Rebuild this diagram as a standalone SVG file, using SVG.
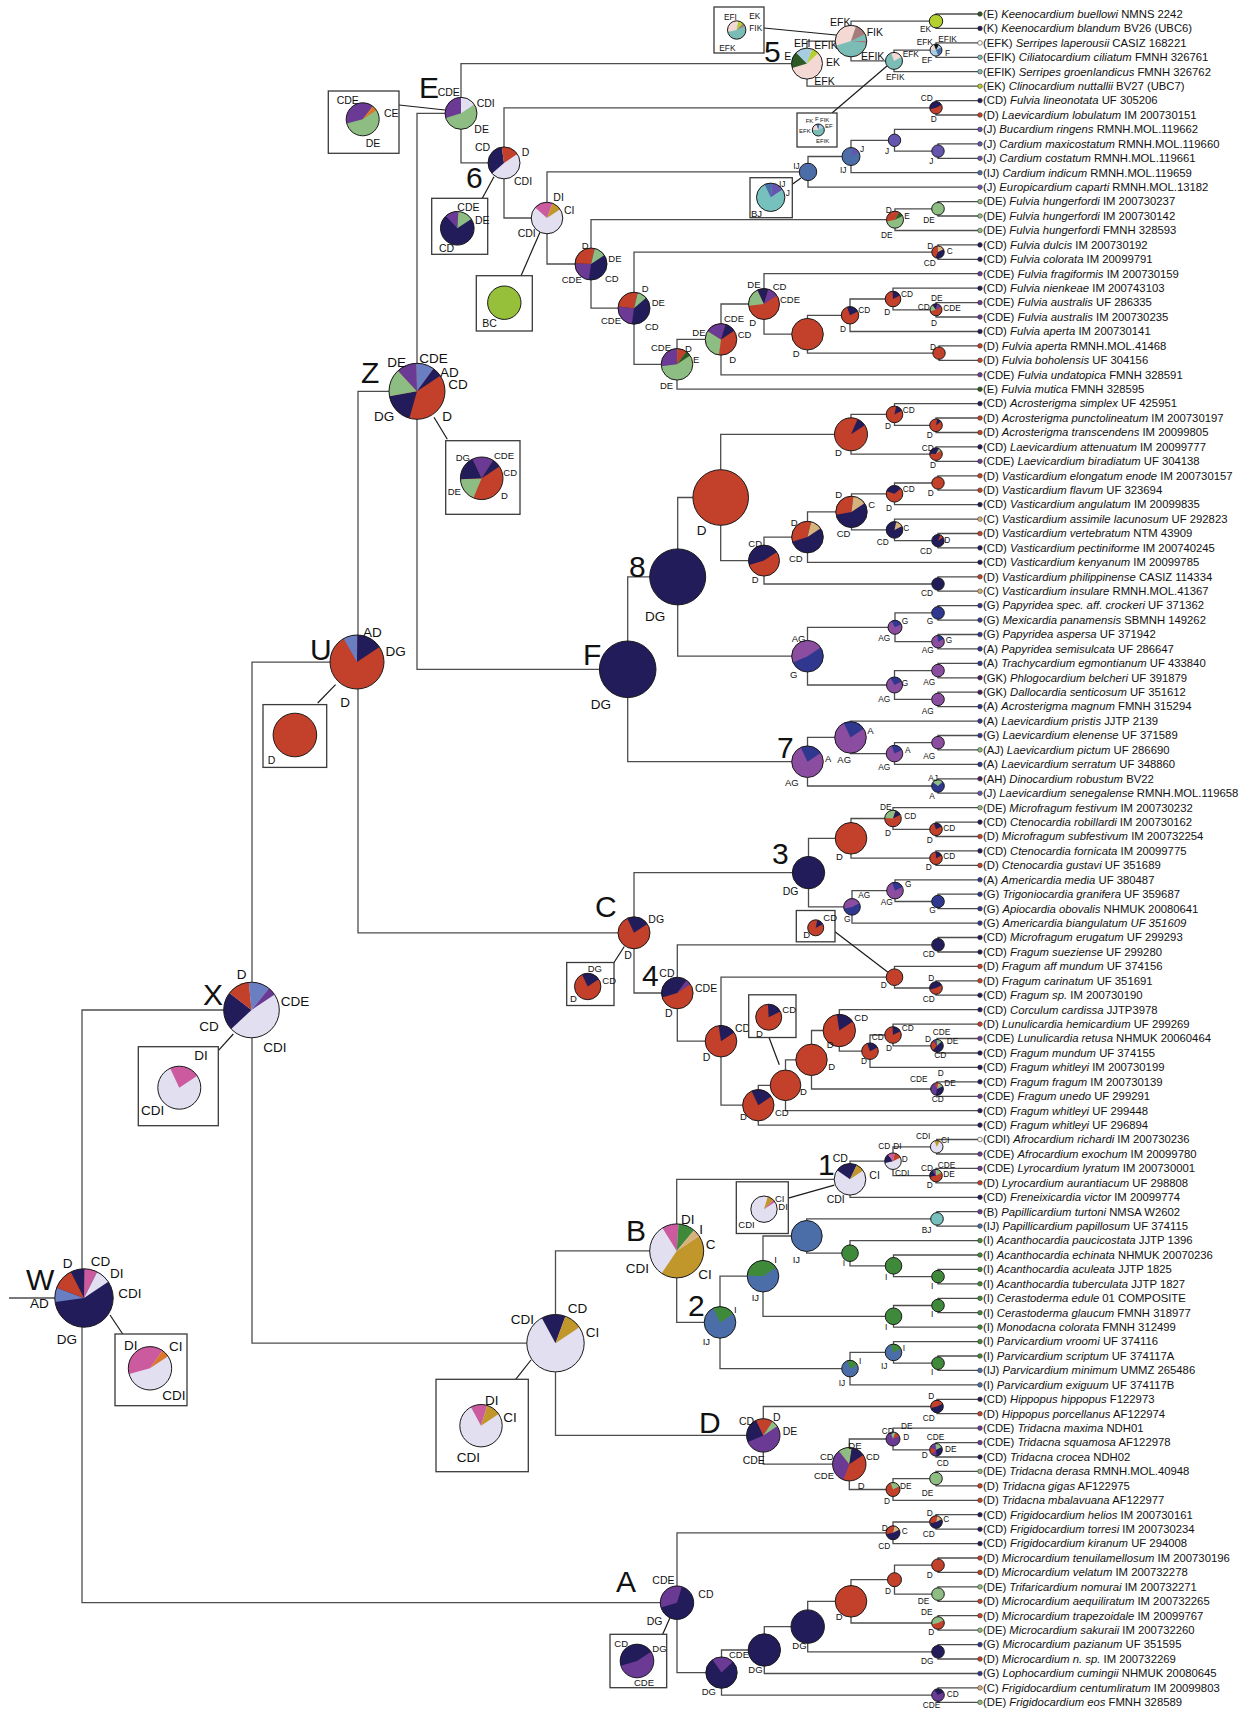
<svg xmlns="http://www.w3.org/2000/svg" width="1247" height="1709" viewBox="0 0 1247 1709">
<style>
text{font-family:"Liberation Sans",Arial,sans-serif;fill:#111}
.tip text{font-size:11.3px}
.it{font-style:italic}
.big{font-size:30px}
.L{font-size:13.5px}
.M{font-size:10.5px}
.N{font-size:9.5px}
.S{font-size:8.3px}
.T{font-size:6px}
.tr{fill:none;stroke:#4d4d4d;stroke-width:1.3}
.bx{fill:#fff;stroke:#3a3a3a;stroke-width:1.3}
.ln{stroke:#1a1a1a;stroke-width:1.2}
.d{fill:#c3402a;stroke:#c3402a}
.n{fill:#221c5a;stroke:#221c5a}
.p{fill:#6a3a94;stroke:#6a3a94}
.g{fill:#8dbd83;stroke:#8dbd83}
.e{fill:#2c5a25;stroke:#2c5a25}
.a{fill:#6a7ec2;stroke:#6a7ec2}
.l{fill:#e1dff0;stroke:#e1dff0}
.k{fill:#cc5a9f;stroke:#cc5a9f}
.y{fill:#c1972b;stroke:#c1972b}
.t{fill:#d8b27c;stroke:#d8b27c}
.i{fill:#3f8a3a;stroke:#3f8a3a}
.ij{fill:#4c6ea8;stroke:#4c6ea8}
.j{fill:#6655ae;stroke:#6655ae}
.bj{fill:#76c0be;stroke:#76c0be}
.bc{fill:#96c03a;stroke:#96c03a}
.ag{fill:#8a4d9f;stroke:#8a4d9f}
.gb{fill:#30378f;stroke:#30378f}
.ef{fill:#f3d8d4;stroke:#f3d8d4}
.fk{fill:#a67b7b;stroke:#a67b7b}
.fi{fill:#7bbdb6;stroke:#7bbdb6}
.ek{fill:#b4d02f;stroke:#b4d02f}
.lb{fill:#a8cde2;stroke:#a8cde2}
.ce{fill:#d9772a;stroke:#d9772a}
.bk{fill:#111;stroke:#111}
.w{fill:#fff;stroke:#fff}
.dp{fill:#4b1d5f;stroke:#4b1d5f}
.b{stroke:none}
.s{fill:none;stroke-width:1}
.o{fill:none;stroke:#1a1a1a;stroke-width:1;vector-effect:non-scaling-stroke}
.dot{stroke:#333;stroke-width:.6}
</style>

<g id="connectors" class="tr">
<path d="M9 1298H60M252 1010H82V1602.7H677M358 662.1H252V1343.2H555.5M417 391.3H358V932.8H634M461 113.3H417V669.3H627.7M807 63.6H461V162.9H504"/>
<path d="M979 14H936V28.4H979M979 42.9H936V57.3H979M936 50.1H894V71.7H979M936 21.2H851V60.9H894M851 41.1H807V86.2H979"/>
<path d="M979 100.6H936V115H979M979 143.9H938V158.3H979M979 129.4H894.5V151.1H938M894.5 140.3H851V172.7H979M851 156.5H808V187.2H979M979 201.6H938V216H979M938 208.8H895V230.5H979M979 244.9H938V259.3H979M979 302.6H936V317H979M979 288.2H893V309.8H936M893 299H850V331.5H979M979 345.9H939V360.3H979M850 315.3H807.5V353.1H939M979 273.7H764V334.2H807.5M764 304H721V374.8H979M721 339.4H677V389.2H979M938 252.1H634V364.3H677M895 219.7H591V308.2H634M808 171.9H547V264H591M936 107.8H504V218H547"/>
<path d="M979 418H936V432.5H979M979 403.6H894.5V425.3H936M979 446.9H936V461.3H979M894.5 414.4H851V454.1H936M979 475.8H938V490.2H979M938 483H894.5V504.6H979M979 533.5H938V547.9H979M979 519.1H894.5V540.7H938M894.5 493.8H851.5V529.9H894.5M851.5 511.9H807.5V562.3H979M979 576.8H938V591.2H979M807.5 537.1H764V584H938M851 434.3H720.7V560.6H764M979 605.6H938V620.1H979M979 634.5H938V648.9H979M938 612.9H895V641.7H938M979 663.4H938V677.8H979M979 692.2H938V706.6H979M938 670.6H894.5V699.4H938M895 627.3H807.5V685H894.5M720.7 497.5H677.7V656.2H807.5M979 735.5H938V749.9H979M938 742.7H894.5V764.4H979M979 721.1H850.5V753.6H894.5M979 778.8H938V793.2H979M850.5 737.4H807.5V786H938M677.7 576.9H627.7V761.7H807.5"/>
<path d="M979 822.1H936V836.5H979M979 807.7H893V829.3H936M979 850.9H936V865.4H979M893 818.5H851V858.2H936M979 894.2H938V908.7H979M979 879.8H895V901.5H938M895 890.6H852V923.1H979M851 838.3H808.5V906.9H852M979 937.5H938V952H979M979 980.8H936V995.2H979M979 966.4H894.5V988H936M979 1038.5H937V1053H979M979 1024.1H893V1045.8H937M893 1035H870V1067.4H979M979 1009.7H839.3V1051.2H870M979 1081.8H937V1096.3H979M839.3 1030.5H811.5V1089H937M811.5 1059.8H785.5V1110.7H979M785.5 1085.3H758.3V1125.1H979M894.5 977.2H721V1105.2H758.3M938 944.8H677.3V1041.2H721M808.5 872.6H634V993H677.3"/>
<path d="M979 1139.5H936.7V1154H979M979 1168.4H936V1182.8H979M936.7 1146.8H893V1175.6H936M893 1161.2H850V1197.3H979M979 1211.7H937V1226.1H979M979 1269.4H938V1283.8H979M979 1255H893.5V1276.6H938M979 1240.6H850V1265.8H893.5M937 1218.9H806.7V1253.2H850M979 1298.3H938V1312.7H979M938 1305.5H893.5V1327.1H979M806.7 1236H763V1316.3H893.5M979 1356H938V1370.4H979M979 1341.6H893.5V1363.2H938M893.5 1352.4H850V1384.9H979M763 1276.2H720V1368.6H850M850 1179.3H676.7V1322.4H720M979 1399.3H937V1413.7H979M979 1442.6H936V1457H979M979 1428.1H893V1449.8H936M979 1471.4H936V1485.9H979M936 1478.6H893V1500.3H979M893 1439H849.3V1489.5H893M937 1406.5H763.3V1464.2H849.3M676.7 1250.9H555.5V1435.4H763.3"/>
<path d="M979 1514.7H936V1529.2H979M936 1522H893V1543.6H979M979 1558H938V1572.4H979M979 1586.9H938V1601.3H979M938 1565.2H894.5V1594.1H938M979 1615.7H938V1630.2H979M894.5 1579.7H851V1623H938M979 1644.6H938V1659H979M851 1601.3H807.7V1651.8H938M807.7 1626.6H764.3V1673.5H979M979 1687.9H938V1702.3H979M764.3 1650H721.5V1695.1H938M893 1532.8H677V1672.6H721.5"/>
</g>

<g id="inset-lines">
<line class="ln" x1="764" y1="28" x2="836" y2="35"/>
<line class="ln" x1="832" y1="113" x2="887" y2="66"/>
<line class="ln" x1="399" y1="105" x2="445" y2="110"/>
<line class="ln" x1="482.3" y1="198.3" x2="494" y2="176.7"/>
<line class="ln" x1="521" y1="275.7" x2="540" y2="232.3"/>
<line class="ln" x1="792.3" y1="184.3" x2="801" y2="178"/>
<line class="ln" x1="434" y1="417.3" x2="447.3" y2="439.3"/>
<line class="ln" x1="317.7" y1="703" x2="335.6" y2="684.7"/>
<line class="ln" x1="218.3" y1="1050.7" x2="233.3" y2="1034"/>
<line class="ln" x1="122.7" y1="1334" x2="110" y2="1315"/>
<line class="ln" x1="515.7" y1="1379.3" x2="531" y2="1360"/>
<line class="ln" x1="614" y1="962.5" x2="624.3" y2="946.5"/>
<line class="ln" x1="835" y1="931.8" x2="888.3" y2="972.5"/>
<line class="ln" x1="769" y1="1037.5" x2="779.3" y2="1064.8"/>
<line class="ln" x1="788.3" y1="1198.2" x2="834.3" y2="1185.2"/>
<line class="ln" x1="662.7" y1="1634.3" x2="670" y2="1617.7"/>
</g>

<!-- Root W -->
<g id="nW"><g transform="translate(84 1298) scale(29.2)"><circle r="1" class="b n"/><circle class="s a" r=".5" pathLength="100" stroke-dasharray="8.8 91.2" stroke-dashoffset="-52.7"/><circle class="s d" r=".5" pathLength="100" stroke-dasharray="13 87" stroke-dashoffset="-61.5"/><circle class="s k" r=".5" pathLength="100" stroke-dasharray="8 92" stroke-dashoffset="-83"/><circle class="s l" r=".5" pathLength="100" stroke-dasharray="9 91" stroke-dashoffset="-91"/><circle r="1" class="o"/></g>
<text class="big" x="26" y="1290">W</text><text class="L" x="62.7" y="1268.3">D</text><text class="L" x="90.7" y="1266">CD</text><text class="L" x="110" y="1278.3">DI</text><text class="L" x="118.3" y="1298.3">CDI</text><text class="L" x="30" y="1308.3">AD</text><text class="L" x="56.7" y="1344.3">DG</text></g>
<g id="iW"><rect class="bx" x="115" y="1334" width="72" height="71.7"/><g transform="translate(150 1368.3) scale(21.7)"><circle r="1" class="b l"/><circle class="s k" r=".5" pathLength="100" stroke-dasharray="43.1 56.9" stroke-dashoffset="-50.5"/><circle class="s ce" r=".5" pathLength="100" stroke-dasharray="6.4 93.6" stroke-dashoffset="-93.6"/><circle r="1" class="o"/></g><text class="L" x="124" y="1350">DI</text><text class="L" x="169" y="1350.7">CI</text><text class="L" x="162.3" y="1400">CDI</text></g>

<g id="nX"><g transform="translate(251.5 1010) scale(27.8)"><circle r="1" class="b l"/><circle class="s n" r=".5" pathLength="100" stroke-dasharray="24.7 75.3" stroke-dashoffset="-42"/><circle class="s d" r=".5" pathLength="100" stroke-dasharray="14.3 85.7" stroke-dashoffset="-66.7"/><circle class="s a" r=".5" pathLength="100" stroke-dasharray="13.7 86.3" stroke-dashoffset="-81"/><circle class="s p" r=".5" pathLength="100" stroke-dasharray="5.3 94.7" stroke-dashoffset="-94.7"/><circle r="1" class="o"/></g>
<text class="big" x="203" y="1005">X</text><text class="L" x="236.7" y="979.3">D</text><text class="L" x="280.7" y="1006">CDE</text><text class="L" x="199.3" y="1030.7">CD</text><text class="L" x="263.3" y="1051.7">CDI</text></g>
<g id="iX"><rect class="bx" x="138.3" y="1046.7" width="80" height="79"/><g transform="translate(179.3 1087.7) scale(21.5)"><circle r="1" class="b l"/><circle class="s k" r=".5" pathLength="100" stroke-dasharray="25 75" stroke-dashoffset="-75"/><circle r="1" class="o"/></g><text class="L" x="194.3" y="1060">DI</text><text class="L" x="141" y="1115">CDI</text></g>

<g id="nU"><g transform="translate(357 662) scale(27)"><circle r="1" class="b d"/><circle class="s a" r=".5" pathLength="100" stroke-dasharray="9.4 90.6" stroke-dashoffset="-73.6"/><circle class="s n" r=".5" pathLength="100" stroke-dasharray="17 83" stroke-dashoffset="-83"/><circle r="1" class="o"/></g>
<text class="big" x="310" y="660">U</text><text class="L" x="363" y="636.6">AD</text><text class="L" x="385.6" y="656">DG</text><text class="L" x="340.2" y="707.2">D</text></g>
<g id="iU"><rect class="bx" x="263" y="704.6" width="63.7" height="62.8"/><g transform="translate(294.9 735) scale(21.8)"><circle r="1" class="b d"/><circle r="1" class="o"/></g><text class="M" x="267.8" y="764">D</text></g>

<g id="nZ"><g transform="translate(417 391.3) scale(28)"><circle r="1" class="b d"/><circle class="s n" r=".5" pathLength="100" stroke-dasharray="19.5 80.5" stroke-dashoffset="-32.5"/><circle class="s g" r=".5" pathLength="100" stroke-dasharray="17.7 82.3" stroke-dashoffset="-52"/><circle class="s p" r=".5" pathLength="100" stroke-dasharray="12.5 87.5" stroke-dashoffset="-69.7"/><circle class="s a" r=".5" pathLength="100" stroke-dasharray="11.7 88.3" stroke-dashoffset="-82.2"/><circle class="s n" r=".5" pathLength="100" stroke-dasharray="6.1 93.9" stroke-dashoffset="-93.9"/><circle r="1" class="o"/></g>
<text class="big" x="361" y="383">Z</text><text class="L" x="387.3" y="366.7">DE</text><text class="L" x="419.3" y="363.3">CDE</text><text class="L" x="440" y="376.7">AD</text><text class="L" x="448.3" y="389.3">CD</text><text class="L" x="374" y="420.7">DG</text><text class="L" x="442.3" y="420.7">D</text></g>
<g id="iZ"><rect class="bx" x="445.7" y="440.7" width="74.3" height="73.6"/><g transform="translate(481.7 478.3) scale(21.3)"><circle r="1" class="b d"/><circle class="s g" r=".5" pathLength="100" stroke-dasharray="19.7 80.3" stroke-dashoffset="-34.7"/><circle class="s n" r=".5" pathLength="100" stroke-dasharray="20.6 79.4" stroke-dashoffset="-54.4"/><circle class="s p" r=".5" pathLength="100" stroke-dasharray="17.8 82.2" stroke-dashoffset="-75"/><circle class="s n" r=".5" pathLength="100" stroke-dasharray="7.2 92.8" stroke-dashoffset="-92.8"/><circle r="1" class="o"/></g><text class="N" x="455.7" y="460.7">DG</text><text class="N" x="494" y="459">CDE</text><text class="N" x="503.3" y="475.7">CD</text><text class="N" x="447.7" y="495">DE</text><text class="N" x="501" y="499.3">D</text></g>

<g id="nE"><g transform="translate(461 113.3) scale(16)"><circle r="1" class="b g"/><circle class="s p" r=".5" pathLength="100" stroke-dasharray="32.8 67.2" stroke-dashoffset="-50"/><circle class="s l" r=".5" pathLength="100" stroke-dasharray="17.2 82.8" stroke-dashoffset="-82.8"/><circle r="1" class="o"/></g>
<text class="big" x="419" y="98">E</text><text class="M" x="437.7" y="96">CDE</text><text class="M" x="476.7" y="106.7">CDI</text><text class="M" x="474.3" y="133.3">DE</text></g>
<g id="iE"><rect class="bx" x="328.3" y="91" width="70.7" height="62.3"/><g transform="translate(362.7 119.3) scale(16.5)"><circle r="1" class="b g"/><circle class="s p" r=".5" pathLength="100" stroke-dasharray="43.9 56.1" stroke-dashoffset="-50.5"/><circle class="s ce" r=".5" pathLength="100" stroke-dasharray="5.6 94.4" stroke-dashoffset="-94.4"/><circle r="1" class="o"/></g><text class="M" x="336.7" y="104.3">CDE</text><text class="M" x="384" y="117.3">CE</text><text class="M" x="365.7" y="147.3">DE</text></g>

<g id="n5"><g transform="translate(807 63.6) scale(15.5)"><circle r="1" class="b ef"/><circle class="s e" r=".5" pathLength="100" stroke-dasharray="19 81" stroke-dashoffset="-50"/><circle class="s lb" r=".5" pathLength="100" stroke-dasharray="20 80" stroke-dashoffset="-69"/><circle class="s ek" r=".5" pathLength="100" stroke-dasharray="8 92" stroke-dashoffset="-89"/><circle r="1" class="o"/></g>
<text class="big" x="764" y="62">5</text><text class="M" x="794" y="47">EFI</text><text class="M" x="814.3" y="49.3">EFIK</text><text class="M" x="784.3" y="60">E</text><text class="M" x="826" y="66">EK</text><text class="M" x="814.3" y="85">EFK</text></g>
<g id="iFIK"><rect class="bx" x="714" y="7" width="50" height="46"/><g transform="translate(736.7 30) scale(9.2)"><circle r="1" class="b fi"/><circle class="s ef" r=".5" pathLength="100" stroke-dasharray="35 65" stroke-dashoffset="-50"/><circle class="s ek" r=".5" pathLength="100" stroke-dasharray="10 90" stroke-dashoffset="-85"/><circle class="s fk" r=".5" pathLength="100" stroke-dasharray="5 95" stroke-dashoffset="-95"/><circle r="1" class="o"/></g><text class="S" x="724" y="20">EFI</text><text class="S" x="749.3" y="19">EK</text><text class="S" x="749.3" y="30.7">FIK</text><text class="S" x="719.3" y="50.7">EFK</text></g>
<g id="nFIK"><g transform="translate(851 41.1) scale(15.8)"><circle r="1" class="b fi"/><circle class="s ef" r=".5" pathLength="100" stroke-dasharray="38.6 61.4" stroke-dashoffset="-50"/><circle class="s fk" r=".5" pathLength="100" stroke-dasharray="13.4 86.6" stroke-dashoffset="-88.6"/><circle r="1" class="o"/></g><text class="M" x="830" y="26">EFK</text><text class="M" x="866.7" y="36">FIK</text></g>
<g id="nEK"><g transform="translate(936 21.2) scale(6.7)"><circle r="1" class="b ek"/><circle r="1" class="o"/></g><text class="S" x="920" y="31.7">EK</text></g>
<g id="nEFIK"><g transform="translate(894 60.9) scale(8.5)"><circle r="1" class="b fi"/><circle class="s ef" r=".5" pathLength="100" stroke-dasharray="25 75" stroke-dashoffset="-75"/><circle r="1" class="o"/></g><text class="S" x="902.7" y="57.3">EFK</text><text class="M" x="861" y="60">EFIK</text><text class="S" x="886" y="80">EFIK</text></g>
<g id="iEFIK"><rect class="bx" x="797" y="113" width="40" height="34"/><g transform="translate(818.3 130) scale(6)"><circle r="1" class="b fi"/><circle class="s ef" r=".5" pathLength="100" stroke-dasharray="20 80" stroke-dashoffset="-55"/><circle class="s ij" r=".5" pathLength="100" stroke-dasharray="10 90" stroke-dashoffset="-75"/><circle class="s lb" r=".5" pathLength="100" stroke-dasharray="15 85" stroke-dashoffset="-85"/><circle r="1" class="o"/></g><text class="T" x="805.7" y="123.3">FK</text><text class="T" x="815" y="120.7">F</text><text class="T" x="820" y="122.3">FIK</text><text class="T" x="825" y="128.3">EF</text><text class="T" x="799" y="133.3">EFK</text><text class="T" x="816" y="142.7">EFIK</text></g>
<g id="nEFIK2"><g transform="translate(936 50.1) scale(6)"><circle r="1" class="b lb"/><circle class="s ij" r=".5" pathLength="100" stroke-dasharray="20 80" stroke-dashoffset="0"/><circle class="s ef" r=".5" pathLength="100" stroke-dasharray="20 80" stroke-dashoffset="-55"/><circle class="s bk" r=".5" pathLength="100" stroke-dasharray="15 85" stroke-dashoffset="-75"/><circle r="1" class="o"/></g><text class="S" x="916.7" y="45">EFK</text><text class="S" x="938.3" y="41.7">EFIK</text><text class="S" x="921.7" y="63.3">EF</text><text class="S" x="945" y="56">F</text></g>

<g id="n6"><g transform="translate(504 162.9) scale(16)"><circle r="1" class="b l"/><circle class="s n" r=".5" pathLength="100" stroke-dasharray="37.7 62.3" stroke-dashoffset="-42.5"/><circle class="s d" r=".5" pathLength="100" stroke-dasharray="19.8 80.2" stroke-dashoffset="-80.2"/><circle r="1" class="o"/></g>
<text class="big" x="466" y="188">6</text><text class="M" x="475" y="151">CD</text><text class="M" x="521.7" y="156">D</text><text class="M" x="514" y="185">CDI</text></g>
<g id="i6"><rect class="bx" x="431.7" y="198.3" width="56" height="56"/><g transform="translate(457.3 228.3) scale(16.8)"><circle r="1" class="b n"/><circle class="s p" r=".5" pathLength="100" stroke-dasharray="14.4 85.6" stroke-dashoffset="-69.5"/><circle class="s g" r=".5" pathLength="100" stroke-dasharray="16.1 83.9" stroke-dashoffset="-83.9"/><circle r="1" class="o"/></g><text class="M" x="457.3" y="210.7">CDE</text><text class="M" x="475" y="224.3">DE</text><text class="M" x="439" y="251.7">CD</text></g>
<g id="nCD6"><g transform="translate(936 107.8) scale(6.2)"><circle r="1" class="b d"/><circle class="s n" r=".5" pathLength="100" stroke-dasharray="50 50" stroke-dashoffset="-50"/><circle r="1" class="o"/></g><text class="S" x="920.7" y="101">CD</text><text class="S" x="930.7" y="122.3">D</text></g>
<g id="nIJ"><g transform="translate(808 171.9) scale(8.7)"><circle r="1" class="b ij"/><circle r="1" class="o"/></g><text class="S" x="793.3" y="169.3">IJ</text></g>
<g id="iIJ"><rect class="bx" x="750" y="177.7" width="42.3" height="40"/><g transform="translate(770.7 197.3) scale(14.2)"><circle r="1" class="b bj"/><circle class="s ij" r=".5" pathLength="100" stroke-dasharray="10 90" stroke-dashoffset="-75"/><circle class="s j" r=".5" pathLength="100" stroke-dasharray="15 85" stroke-dashoffset="-85"/><circle r="1" class="o"/></g><text class="S" x="779" y="186.7">IJ</text><text class="S" x="785.7" y="196">J</text><text class="N" x="751" y="217.3">BJ</text></g>
<g id="nIJ2"><g transform="translate(851 156.5) scale(9)"><circle r="1" class="b ij"/><circle class="s j" r=".5" pathLength="100" stroke-dasharray="15 85" stroke-dashoffset="-85"/><circle r="1" class="o"/></g><text class="S" x="860" y="152.3">J</text><text class="S" x="840" y="173.3">IJ</text></g>
<g id="nJ"><g transform="translate(894.5 140.3) scale(6.2)"><circle r="1" class="b j"/><circle r="1" class="o"/></g><text class="S" x="885" y="154">J</text></g>
<g id="nJ2"><g transform="translate(938 151.1) scale(6.2)"><circle r="1" class="b j"/><circle r="1" class="o"/></g><text class="S" x="929.3" y="164">J</text></g>
<g id="n547"><g transform="translate(547 218) scale(15.8)"><circle r="1" class="b l"/><circle class="s k" r=".5" pathLength="100" stroke-dasharray="21.4 78.6" stroke-dashoffset="-67.8"/><circle class="s y" r=".5" pathLength="100" stroke-dasharray="10.8 89.2" stroke-dashoffset="-89.2"/><circle r="1" class="o"/></g><text class="M" x="553.3" y="200.7">DI</text><text class="M" x="564" y="214">CI</text><text class="M" x="517.7" y="236.7">CDI</text></g>
<g id="iBC"><rect class="bx" x="476.3" y="275.7" width="56" height="55.3"/><g transform="translate(504.3 302.7) scale(16.7)"><circle r="1" class="b bc"/><circle r="1" class="o"/></g><text class="M" x="482.3" y="327.3">BC</text></g>
<g id="n591"><g transform="translate(591 264) scale(16)"><circle r="1" class="b n"/><circle class="s p" r=".5" pathLength="100" stroke-dasharray="26 74" stroke-dashoffset="-30"/><circle class="s d" r=".5" pathLength="100" stroke-dasharray="31 69" stroke-dashoffset="-56"/><circle class="s g" r=".5" pathLength="100" stroke-dasharray="13 87" stroke-dashoffset="-87"/><circle r="1" class="o"/></g><text class="N" x="581.7" y="249.3">D</text><text class="N" x="608.3" y="261.7">DE</text><text class="N" x="561.7" y="283.3">CDE</text><text class="N" x="605" y="281.7">CD</text></g>
<g id="nDEE"><g transform="translate(895 219.7) scale(8.5)"><circle r="1" class="b g"/><circle class="s d" r=".5" pathLength="100" stroke-dasharray="40 60" stroke-dashoffset="-50"/><circle class="s e" r=".5" pathLength="100" stroke-dasharray="10 90" stroke-dashoffset="-90"/><circle r="1" class="o"/></g><text class="S" x="885.7" y="212.7">D</text><text class="S" x="904.3" y="218.7">E</text><text class="S" x="881" y="237.7">DE</text></g>
<g id="nDE2"><g transform="translate(938 208.8) scale(6.3)"><circle r="1" class="b g"/><circle r="1" class="o"/></g><text class="S" x="923.3" y="223.3">DE</text></g>
<g id="n634"><g transform="translate(634 308.2) scale(16)"><circle r="1" class="b n"/><circle class="s p" r=".5" pathLength="100" stroke-dasharray="27 73" stroke-dashoffset="-30"/><circle class="s d" r=".5" pathLength="100" stroke-dasharray="30 70" stroke-dashoffset="-57"/><circle class="s g" r=".5" pathLength="100" stroke-dasharray="11 89" stroke-dashoffset="-87"/><circle r="1" class="o"/></g><text class="N" x="641.7" y="291.7">D</text><text class="N" x="651.7" y="306">DE</text><text class="N" x="601" y="324">CDE</text><text class="N" x="645" y="330">CD</text></g>
<g id="nDC"><g transform="translate(938 252.1) scale(6.2)"><circle r="1" class="b n"/><circle class="s d" r=".5" pathLength="100" stroke-dasharray="45 55" stroke-dashoffset="-35"/><circle class="s t" r=".5" pathLength="100" stroke-dasharray="20 80" stroke-dashoffset="-80"/><circle r="1" class="o"/></g><text class="S" x="927.3" y="249.3">D</text><text class="S" x="946.7" y="254">C</text><text class="S" x="923.7" y="266">CD</text></g>
<g id="n365"><g transform="translate(677 364.3) scale(15.8)"><circle r="1" class="b g"/><circle class="s p" r=".5" pathLength="100" stroke-dasharray="30 70" stroke-dashoffset="-53"/><circle class="s d" r=".5" pathLength="100" stroke-dasharray="11 89" stroke-dashoffset="-83"/><circle class="s e" r=".5" pathLength="100" stroke-dasharray="6 94" stroke-dashoffset="-94"/><circle r="1" class="o"/></g><text class="N" x="651" y="351">CDE</text><text class="N" x="685" y="352">D</text><text class="N" x="693" y="363">E</text><text class="N" x="660" y="389">DE</text></g>
<g id="n340"><g transform="translate(721 339.4) scale(15.8)"><circle r="1" class="b d"/><circle class="s g" r=".5" pathLength="100" stroke-dasharray="35 65" stroke-dashoffset="-30"/><circle class="s p" r=".5" pathLength="100" stroke-dasharray="23 77" stroke-dashoffset="-65"/><circle class="s n" r=".5" pathLength="100" stroke-dasharray="12 88" stroke-dashoffset="-88"/><circle r="1" class="o"/></g><text class="N" x="724" y="322">CDE</text><text class="N" x="692.3" y="335.7">DE</text><text class="N" x="737.7" y="338">CD</text><text class="N" x="729.3" y="363">D</text></g>
<g id="n304"><g transform="translate(764 304) scale(15.5)"><circle r="1" class="b d"/><circle class="s g" r=".5" pathLength="100" stroke-dasharray="22 78" stroke-dashoffset="-53"/><circle class="s n" r=".5" pathLength="100" stroke-dasharray="13 87" stroke-dashoffset="-75"/><circle class="s p" r=".5" pathLength="100" stroke-dasharray="12 88" stroke-dashoffset="-88"/><circle r="1" class="o"/></g><text class="N" x="747.3" y="288.3">DE</text><text class="N" x="772.7" y="290">CD</text><text class="N" x="780" y="302.7">CDE</text><text class="N" x="749.3" y="326">D</text></g>
<g id="n335"><g transform="translate(807.5 334.2) scale(15.8)"><circle r="1" class="b d"/><circle r="1" class="o"/></g><text class="N" x="792.7" y="356.7">D</text></g>
<g id="n316"><g transform="translate(850 315.3) scale(8.7)"><circle r="1" class="b d"/><circle class="s n" r=".5" pathLength="100" stroke-dasharray="25 75" stroke-dashoffset="-75"/><circle r="1" class="o"/></g><text class="S" x="858.3" y="312.7">CD</text><text class="S" x="840" y="331.7">D</text></g>
<g id="n299"><g transform="translate(893 299) scale(7.8)"><circle r="1" class="b d"/><circle class="s n" r=".5" pathLength="100" stroke-dasharray="20 80" stroke-dashoffset="-80"/><circle r="1" class="o"/></g><text class="S" x="901" y="296.7">CD</text><text class="S" x="884.3" y="315">D</text></g>
<g id="n310"><g transform="translate(936 309.8) scale(6)"><circle r="1" class="b d"/><circle class="s g" r=".5" pathLength="100" stroke-dasharray="20 80" stroke-dashoffset="-50"/><circle class="s n" r=".5" pathLength="100" stroke-dasharray="15 85" stroke-dashoffset="-70"/><circle class="s p" r=".5" pathLength="100" stroke-dasharray="15 85" stroke-dashoffset="-85"/><circle r="1" class="o"/></g><text class="S" x="931" y="301">DE</text><text class="S" x="917.7" y="310">CD</text><text class="S" x="943.3" y="311">CDE</text><text class="S" x="931" y="326">D</text></g>
<g id="n353"><g transform="translate(939 353.1) scale(6.2)"><circle r="1" class="b d"/><circle r="1" class="o"/></g><text class="S" x="930" y="350">D</text></g>

<g id="nF"><g transform="translate(627.7 669.3) scale(28.3)"><circle r="1" class="b n"/><circle r="1" class="o"/></g><text class="big" x="583" y="665">F</text><text class="L" x="590.7" y="709.3">DG</text></g>
<g id="n8"><g transform="translate(677.7 576.9) scale(28)"><circle r="1" class="b n"/><circle r="1" class="o"/></g><text class="big" x="629" y="577">8</text><text class="L" x="645" y="620.7">DG</text></g>
<g id="n498"><g transform="translate(720.7 497.5) scale(27.8)"><circle r="1" class="b d"/><circle r="1" class="o"/></g><text class="L" x="696.7" y="535">D</text></g>
<g id="n436"><g transform="translate(851 434.3) scale(16.5)"><circle r="1" class="b d"/><circle class="s n" r=".5" pathLength="100" stroke-dasharray="10 90" stroke-dashoffset="-90"/><circle r="1" class="o"/></g><text class="N" x="835" y="456">D</text></g>
<g id="n415"><g transform="translate(894.5 414.4) scale(8.3)"><circle r="1" class="b d"/><circle class="s n" r=".5" pathLength="100" stroke-dasharray="15 85" stroke-dashoffset="-85"/><circle r="1" class="o"/></g><text class="S" x="902.7" y="412.7">CD</text><text class="S" x="885" y="429.3">D</text></g>
<g id="n425"><g transform="translate(936 425.3) scale(6.3)"><circle r="1" class="b d"/><circle class="s n" r=".5" pathLength="100" stroke-dasharray="12 88" stroke-dashoffset="-85"/><circle r="1" class="o"/></g><text class="S" x="926.7" y="438.3">D</text></g>
<g id="n454"><g transform="translate(936 454.1) scale(6.3)"><circle r="1" class="b d"/><circle class="s n" r=".5" pathLength="100" stroke-dasharray="35 65" stroke-dashoffset="-55"/><circle class="s g" r=".5" pathLength="100" stroke-dasharray="7 93" stroke-dashoffset="-90"/><circle r="1" class="o"/></g><text class="S" x="921.7" y="450.7">CD</text><text class="S" x="930" y="467.7">D</text></g>
<g id="n562"><g transform="translate(764 560.6) scale(15.5)"><circle r="1" class="b d"/><circle class="s n" r=".5" pathLength="100" stroke-dasharray="50 50" stroke-dashoffset="-50"/><circle r="1" class="o"/></g><text class="N" x="748.3" y="547.3">CD</text><text class="N" x="751.7" y="583.3">D</text></g>
<g id="n538"><g transform="translate(807.5 537.1) scale(15.8)"><circle r="1" class="b n"/><circle class="s d" r=".5" pathLength="100" stroke-dasharray="37 63" stroke-dashoffset="-50"/><circle class="s t" r=".5" pathLength="100" stroke-dasharray="13 87" stroke-dashoffset="-87"/><circle r="1" class="o"/></g><text class="N" x="790.7" y="526">D</text><text class="N" x="789" y="561.7">CD</text></g>
<g id="n513"><g transform="translate(851.5 511.9) scale(15.7)"><circle r="1" class="b n"/><circle class="s d" r=".5" pathLength="100" stroke-dasharray="33 67" stroke-dashoffset="-52"/><circle class="s t" r=".5" pathLength="100" stroke-dasharray="15 85" stroke-dashoffset="-85"/><circle r="1" class="o"/></g><text class="N" x="835.3" y="498">D</text><text class="N" x="868.3" y="508.3">C</text><text class="N" x="836.7" y="536.7">CD</text></g>
<g id="n495"><g transform="translate(894.5 493.8) scale(8.3)"><circle r="1" class="b d"/><circle class="s n" r=".5" pathLength="100" stroke-dasharray="36 64" stroke-dashoffset="-60"/><circle r="1" class="o"/></g><text class="S" x="902.7" y="492.3">CD</text><text class="S" x="886" y="511">D</text></g>
<g id="n484"><g transform="translate(938 483) scale(6.2)"><circle r="1" class="b d"/><circle r="1" class="o"/></g><text class="S" x="927.7" y="496">D</text></g>
<g id="n532"><g transform="translate(894.5 529.9) scale(8.3)"><circle r="1" class="b n"/><circle class="s t" r=".5" pathLength="100" stroke-dasharray="15 85" stroke-dashoffset="-85"/><circle r="1" class="o"/></g><text class="S" x="903.3" y="530.7">C</text><text class="S" x="876.7" y="545">CD</text></g>
<g id="n541"><g transform="translate(938 540.7) scale(6.2)"><circle r="1" class="b n"/><circle class="s d" r=".5" pathLength="100" stroke-dasharray="10 90" stroke-dashoffset="-88"/><circle r="1" class="o"/></g><text class="S" x="944.3" y="542.7">D</text><text class="S" x="920" y="554.3">CD</text></g>
<g id="n584"><g transform="translate(938 584) scale(6.2)"><circle r="1" class="b n"/><circle r="1" class="o"/></g><text class="S" x="921" y="596">CD</text></g>
<g id="n656"><g transform="translate(807.5 656.2) scale(15.8)"><circle r="1" class="b gb"/><circle class="s ag" r=".5" pathLength="100" stroke-dasharray="52 48" stroke-dashoffset="-48"/><circle r="1" class="o"/></g><text class="N" x="791.7" y="641.7">AG</text><text class="N" x="790" y="677.7">G</text></g>
<g id="n627"><g transform="translate(895 627.3) scale(7)"><circle r="1" class="b ag"/><circle class="s gb" r=".5" pathLength="100" stroke-dasharray="28 72" stroke-dashoffset="-72"/><circle r="1" class="o"/></g><text class="S" x="901.7" y="624">G</text><text class="S" x="878.3" y="640.7">AG</text></g>
<g id="n613"><g transform="translate(938 612.9) scale(6.3)"><circle r="1" class="b gb"/><circle r="1" class="o"/></g><text class="S" x="926.7" y="624">G</text></g>
<g id="n642"><g transform="translate(938 641.7) scale(6.3)"><circle r="1" class="b ag"/><circle class="s gb" r=".5" pathLength="100" stroke-dasharray="20 80" stroke-dashoffset="-80"/><circle r="1" class="o"/></g><text class="S" x="945.7" y="642.7">G</text><text class="S" x="921.7" y="652.7">AG</text></g>
<g id="n685"><g transform="translate(894.5 685) scale(8)"><circle r="1" class="b ag"/><circle class="s gb" r=".5" pathLength="100" stroke-dasharray="28 72" stroke-dashoffset="-72"/><circle r="1" class="o"/></g><text class="S" x="901.7" y="685.7">G</text><text class="S" x="878.3" y="702">AG</text></g>
<g id="n671"><g transform="translate(938 670.6) scale(6.3)"><circle r="1" class="b ag"/><circle r="1" class="o"/></g><text class="S" x="923.3" y="685">AG</text></g>
<g id="n699"><g transform="translate(938 699.4) scale(6.3)"><circle r="1" class="b ag"/><circle r="1" class="o"/></g><text class="S" x="921.7" y="714.3">AG</text></g>
<g id="n7"><g transform="translate(807.5 761.7) scale(15.8)"><circle r="1" class="b ag"/><circle class="s gb" r=".5" pathLength="100" stroke-dasharray="25 75" stroke-dashoffset="-75"/><circle r="1" class="o"/></g><text class="big" x="777" y="758">7</text><text class="N" x="825" y="761.7">A</text><text class="N" x="785" y="785.7">AG</text></g>
<g id="n737"><g transform="translate(850.5 737.4) scale(15.8)"><circle r="1" class="b ag"/><circle class="s gb" r=".5" pathLength="100" stroke-dasharray="25 75" stroke-dashoffset="-75"/><circle r="1" class="o"/></g><text class="N" x="867.3" y="734.3">A</text><text class="N" x="837.3" y="763.3">AG</text></g>
<g id="n754"><g transform="translate(894.5 753.6) scale(8.3)"><circle r="1" class="b ag"/><circle class="s gb" r=".5" pathLength="100" stroke-dasharray="25 75" stroke-dashoffset="-75"/><circle r="1" class="o"/></g><text class="S" x="905" y="753.3">A</text><text class="S" x="878.3" y="770">AG</text></g>
<g id="n743"><g transform="translate(938 742.7) scale(6.3)"><circle r="1" class="b ag"/><circle r="1" class="o"/></g><text class="S" x="923.3" y="759.3">AG</text></g>
<g id="n786"><g transform="translate(938 786) scale(6.3)"><circle r="1" class="b gb"/><circle class="s g" r=".5" pathLength="100" stroke-dasharray="30 70" stroke-dashoffset="-65"/><circle r="1" class="o"/></g><text class="S" x="928.3" y="781">AJ</text><text class="S" x="929.3" y="799.3">A</text></g>

<g id="nC"><g transform="translate(634 932.8) scale(16)"><circle r="1" class="b d"/><circle class="s n" r=".5" pathLength="100" stroke-dasharray="25 75" stroke-dashoffset="-75"/><circle r="1" class="o"/></g><text class="big" x="595" y="916.5">C</text><text class="M" x="648.3" y="922.5">DG</text><text class="M" x="624.3" y="959.2">D</text></g>
<g id="iC"><rect class="bx" x="566.7" y="962.5" width="47.3" height="43"/><g transform="translate(587.7 986.5) scale(13.2)"><circle r="1" class="b d"/><circle class="s n" r=".5" pathLength="100" stroke-dasharray="25 75" stroke-dashoffset="-75"/><circle r="1" class="o"/></g><text class="N" x="587.7" y="972.2">DG</text><text class="N" x="602.3" y="983.8">CD</text><text class="N" x="570" y="1001.5">D</text></g>
<g id="n3"><g transform="translate(808.5 872.6) scale(16.2)"><circle r="1" class="b n"/><circle r="1" class="o"/></g><text class="big" x="772" y="863.5">3</text><text class="M" x="782.7" y="894.8">DG</text></g>
<g id="n838"><g transform="translate(851 838.3) scale(15.8)"><circle r="1" class="b d"/><circle r="1" class="o"/></g><text class="N" x="836" y="859.8">D</text></g>
<g id="n818"><g transform="translate(893 818.5) scale(8.3)"><circle r="1" class="b d"/><circle class="s g" r=".5" pathLength="100" stroke-dasharray="32 68" stroke-dashoffset="-55"/><circle class="s n" r=".5" pathLength="100" stroke-dasharray="13 87" stroke-dashoffset="-87"/><circle r="1" class="o"/></g><text class="S" x="880" y="809.8">DE</text><text class="S" x="904.3" y="819.2">CD</text><text class="S" x="885" y="835.8">D</text></g>
<g id="n829"><g transform="translate(936 829.3) scale(6.3)"><circle r="1" class="b d"/><circle class="s n" r=".5" pathLength="100" stroke-dasharray="25 75" stroke-dashoffset="-75"/><circle r="1" class="o"/></g><text class="S" x="943.3" y="830.5">CD</text><text class="S" x="926.7" y="842.5">D</text></g>
<g id="n858"><g transform="translate(936 858.2) scale(6.3)"><circle r="1" class="b d"/><circle class="s n" r=".5" pathLength="100" stroke-dasharray="20 80" stroke-dashoffset="-80"/><circle r="1" class="o"/></g><text class="S" x="943.3" y="859.2">CD</text><text class="S" x="925.7" y="869.8">D</text></g>
<g id="n907"><g transform="translate(852 906.9) scale(8.3)"><circle r="1" class="b gb"/><circle class="s ag" r=".5" pathLength="100" stroke-dasharray="50 50" stroke-dashoffset="-50"/><circle r="1" class="o"/></g><text class="S" x="858.3" y="898.2">AG</text><text class="S" x="844" y="921.5">G</text></g>
<g id="n891"><g transform="translate(895 890.6) scale(8.3)"><circle r="1" class="b ag"/><circle class="s gb" r=".5" pathLength="100" stroke-dasharray="25 75" stroke-dashoffset="-75"/><circle r="1" class="o"/></g><text class="S" x="905" y="886.5">G</text><text class="S" x="880.7" y="904.8">AG</text></g>
<g id="n902"><g transform="translate(938 901.5) scale(6.3)"><circle r="1" class="b gb"/><circle r="1" class="o"/></g><text class="S" x="929.3" y="913.2">G</text></g>
<g id="i13"><rect class="bx" x="796.3" y="910.5" width="38.7" height="31.3"/><g transform="translate(815.7 927.8) scale(8)"><circle r="1" class="b d"/><circle class="s n" r=".5" pathLength="100" stroke-dasharray="15 85" stroke-dashoffset="-85"/><circle r="1" class="o"/></g><text class="N" x="823.3" y="920.8">CD</text><text class="N" x="803.3" y="938.2">D</text></g>
<g id="n4"><g transform="translate(677.3 993) scale(15.8)"><circle r="1" class="b d"/><circle class="s n" r=".5" pathLength="100" stroke-dasharray="44 56" stroke-dashoffset="-50"/><circle class="s p" r=".5" pathLength="100" stroke-dasharray="6 94" stroke-dashoffset="-94"/><circle r="1" class="o"/></g><text class="big" x="642" y="985.5">4</text><text class="M" x="659.3" y="977.2">CD</text><text class="M" x="695" y="992.2">CDE</text><text class="M" x="665" y="1016.5">D</text></g>
<g id="n945"><g transform="translate(938 944.8) scale(6.3)"><circle r="1" class="b n"/><circle r="1" class="o"/></g><text class="S" x="922.7" y="957.2">CD</text></g>
<g id="n1041"><g transform="translate(721 1041.2) scale(15.8)"><circle r="1" class="b d"/><circle class="s n" r=".5" pathLength="100" stroke-dasharray="20 80" stroke-dashoffset="-80"/><circle r="1" class="o"/></g><text class="M" x="735" y="1032.2">CD</text><text class="M" x="702.7" y="1060.5">D</text></g>
<g id="n977"><g transform="translate(894.5 977.2) scale(8.3)"><circle r="1" class="b d"/><circle r="1" class="o"/></g><text class="S" x="880.7" y="988.2">D</text></g>
<g id="n988"><g transform="translate(936 988) scale(6.3)"><circle r="1" class="b d"/><circle class="s n" r=".5" pathLength="100" stroke-dasharray="50 50" stroke-dashoffset="-50"/><circle r="1" class="o"/></g><text class="S" x="928.3" y="980.5">D</text><text class="S" x="922.7" y="1001.5">CD</text></g>
<g id="i14"><rect class="bx" x="748.7" y="994.8" width="47.3" height="42.7"/><g transform="translate(768.7 1017.2) scale(13)"><circle r="1" class="b d"/><circle class="s n" r=".5" pathLength="100" stroke-dasharray="20 80" stroke-dashoffset="-80"/><circle r="1" class="o"/></g><text class="N" x="782.3" y="1012.5">CD</text><text class="N" x="756" y="1036.5">D</text></g>
<g id="n1105"><g transform="translate(758.3 1105.2) scale(15.7)"><circle r="1" class="b d"/><circle class="s n" r=".5" pathLength="100" stroke-dasharray="25 75" stroke-dashoffset="-75"/><circle r="1" class="o"/></g><text class="N" x="740" y="1119.8">D</text><text class="N" x="775" y="1115.8">CD</text></g>
<g id="n1085"><g transform="translate(785.5 1085.3) scale(15.3)"><circle r="1" class="b d"/><circle r="1" class="o"/></g><text class="N" x="800" y="1094.8">D</text></g>
<g id="n1060"><g transform="translate(811.5 1059.8) scale(15.7)"><circle r="1" class="b d"/><circle r="1" class="o"/></g><text class="N" x="828.3" y="1069.8">D</text></g>
<g id="n1030"><g transform="translate(839.3 1030.5) scale(16.2)"><circle r="1" class="b d"/><circle class="s n" r=".5" pathLength="100" stroke-dasharray="20 80" stroke-dashoffset="-80"/><circle r="1" class="o"/></g><text class="N" x="854.3" y="1020.5">CD</text><text class="N" x="826.7" y="1047.5">D</text></g>
<g id="n1051"><g transform="translate(870 1051.2) scale(8.3)"><circle r="1" class="b d"/><circle class="s n" r=".5" pathLength="100" stroke-dasharray="25 75" stroke-dashoffset="-75"/><circle r="1" class="o"/></g><text class="S" x="871.7" y="1039.8">CD</text><text class="S" x="861" y="1064.2">D</text></g>
<g id="n1035"><g transform="translate(893 1035) scale(8.3)"><circle r="1" class="b d"/><circle class="s n" r=".5" pathLength="100" stroke-dasharray="20 80" stroke-dashoffset="-80"/><circle r="1" class="o"/></g><text class="S" x="901.7" y="1030.8">CD</text><text class="S" x="886" y="1050.5">D</text></g>
<g id="n1046"><g transform="translate(937 1045.8) scale(6.3)"><circle r="1" class="b n"/><circle class="s d" r=".5" pathLength="100" stroke-dasharray="30 70" stroke-dashoffset="-40"/><circle class="s p" r=".5" pathLength="100" stroke-dasharray="10 90" stroke-dashoffset="-70"/><circle class="s g" r=".5" pathLength="100" stroke-dasharray="15 85" stroke-dashoffset="-80"/><circle r="1" class="o"/></g><text class="S" x="932.7" y="1034.8">CDE</text><text class="S" x="925" y="1041.5">D</text><text class="S" x="946.7" y="1043.8">DE</text><text class="S" x="934.3" y="1058.2">CD</text></g>
<g id="n1089"><g transform="translate(937 1089) scale(6.3)"><circle r="1" class="b p"/><circle class="s n" r=".5" pathLength="100" stroke-dasharray="30 70" stroke-dashoffset="0"/><circle class="s d" r=".5" pathLength="100" stroke-dasharray="10 90" stroke-dashoffset="-75"/><circle class="s t" r=".5" pathLength="100" stroke-dasharray="7 93" stroke-dashoffset="-85"/><circle class="s g" r=".5" pathLength="100" stroke-dasharray="8 92" stroke-dashoffset="-92"/><circle r="1" class="o"/></g><text class="S" x="910" y="1082.2">CDE</text><text class="S" x="937.7" y="1075.8">D</text><text class="S" x="944.3" y="1085.8">DE</text><text class="S" x="931.7" y="1101.5">CD</text></g>

<g id="nCDI"><g transform="translate(555.5 1343.2) scale(28.7)"><circle r="1" class="b l"/><circle class="s n" r=".5" pathLength="100" stroke-dasharray="15 85" stroke-dashoffset="-74"/><circle class="s y" r=".5" pathLength="100" stroke-dasharray="11 89" stroke-dashoffset="-89"/><circle r="1" class="o"/></g><text class="L" x="510.7" y="1324">CDI</text><text class="L" x="567.7" y="1313.3">CD</text><text class="L" x="585.7" y="1337.3">CI</text></g>
<g id="iCDI"><rect class="bx" x="436" y="1379.3" width="92.3" height="92.4"/><g transform="translate(481 1425.7) scale(21.2)"><circle r="1" class="b l"/><circle class="s k" r=".5" pathLength="100" stroke-dasharray="14 86" stroke-dashoffset="-74"/><circle class="s y" r=".5" pathLength="100" stroke-dasharray="12 88" stroke-dashoffset="-88"/><circle r="1" class="o"/></g><text class="L" x="485" y="1405">DI</text><text class="L" x="503.3" y="1421.7">CI</text><text class="L" x="456.7" y="1461.7">CDI</text></g>
<g id="nB"><g transform="translate(676.7 1250.9) scale(27)"><circle r="1" class="b l"/><circle class="s y" r=".5" pathLength="100" stroke-dasharray="38 62" stroke-dashoffset="0"/><circle class="s k" r=".5" pathLength="100" stroke-dasharray="11 89" stroke-dashoffset="-73"/><circle class="s i" r=".5" pathLength="100" stroke-dasharray="11 89" stroke-dashoffset="-84"/><circle class="s t" r=".5" pathLength="100" stroke-dasharray="5 95" stroke-dashoffset="-95"/><circle r="1" class="o"/></g><text class="big" x="626" y="1240.5">B</text><text class="L" x="681" y="1224.2">DI</text><text class="L" x="699.3" y="1234.2">I</text><text class="L" x="705.7" y="1248.5">C</text><text class="L" x="625.7" y="1273.2">CDI</text><text class="L" x="698.3" y="1279.2">CI</text></g>
<g id="n1"><g transform="translate(850 1179.3) scale(15.8)"><circle r="1" class="b l"/><circle class="s n" r=".5" pathLength="100" stroke-dasharray="24.6 75.4" stroke-dashoffset="-66"/><circle class="s y" r=".5" pathLength="100" stroke-dasharray="9.4 90.6" stroke-dashoffset="-90.6"/><circle r="1" class="o"/></g><text class="big" x="818" y="1174.5">1</text><text class="M" x="832.7" y="1161.5">CD</text><text class="M" x="869.3" y="1178.5">CI</text><text class="M" x="826.7" y="1203.2">CDI</text></g>
<g id="i1"><rect class="bx" x="736.3" y="1181.8" width="52" height="51.7"/><g transform="translate(764 1209.2) scale(13.2)"><circle r="1" class="b l"/><circle class="s y" r=".5" pathLength="100" stroke-dasharray="9 91" stroke-dashoffset="-88"/><circle class="s k" r=".5" pathLength="100" stroke-dasharray="3 97" stroke-dashoffset="-97"/><circle r="1" class="o"/></g><text class="N" x="775" y="1201.5">CI</text><text class="N" x="778.3" y="1210.2">DI</text><text class="N" x="738.3" y="1227.5">CDI</text></g>
<g id="n1161"><g transform="translate(893 1161.2) scale(8.3)"><circle r="1" class="b l"/><circle class="s n" r=".5" pathLength="100" stroke-dasharray="20 80" stroke-dashoffset="-50"/><circle class="s k" r=".5" pathLength="100" stroke-dasharray="15 85" stroke-dashoffset="-70"/><circle class="s d" r=".5" pathLength="100" stroke-dasharray="15 85" stroke-dashoffset="-85"/><circle r="1" class="o"/></g><text class="S" x="878.3" y="1148.5">CD</text><text class="S" x="893.3" y="1148.5">DI</text><text class="S" x="901.7" y="1161.8">D</text><text class="S" x="895" y="1175.8">CDI</text></g>
<g id="n1147"><g transform="translate(936.7 1146.8) scale(6.3)"><circle r="1" class="b l"/><circle class="s y" r=".5" pathLength="100" stroke-dasharray="15 85" stroke-dashoffset="-75"/><circle r="1" class="o"/></g><text class="S" x="916" y="1139.2">CDI</text><text class="S" x="941" y="1142.8">CI</text></g>
<g id="n1176"><g transform="translate(936 1175.6) scale(6.3)"><circle r="1" class="b d"/><circle class="s n" r=".5" pathLength="100" stroke-dasharray="20 80" stroke-dashoffset="-50"/><circle class="s p" r=".5" pathLength="100" stroke-dasharray="10 90" stroke-dashoffset="-70"/><circle class="s g" r=".5" pathLength="100" stroke-dasharray="20 80" stroke-dashoffset="-80"/><circle r="1" class="o"/></g><text class="S" x="921" y="1170.8">CD</text><text class="S" x="937.7" y="1167.5">CDE</text><text class="S" x="943.3" y="1176.8">DE</text><text class="S" x="926.7" y="1188.2">D</text></g>
<g id="n2"><g transform="translate(720 1322.4) scale(15.8)"><circle r="1" class="b ij"/><circle class="s i" r=".5" pathLength="100" stroke-dasharray="25 75" stroke-dashoffset="-75"/><circle r="1" class="o"/></g><text class="big" x="688" y="1315.5">2</text><text class="N" x="734" y="1312.5">I</text><text class="N" x="702.7" y="1345.2">IJ</text></g>
<g id="n1276"><g transform="translate(763 1276.2) scale(15.8)"><circle r="1" class="b ij"/><circle class="s i" r=".5" pathLength="100" stroke-dasharray="44 56" stroke-dashoffset="-56"/><circle r="1" class="o"/></g><text class="N" x="774.3" y="1262.5">I</text><text class="N" x="751.7" y="1301.2">IJ</text></g>
<g id="n1236"><g transform="translate(806.7 1236) scale(15.5)"><circle r="1" class="b ij"/><circle r="1" class="o"/></g><text class="N" x="792.7" y="1262.5">IJ</text></g>
<g id="n1219"><g transform="translate(937 1218.9) scale(6.3)"><circle r="1" class="b bj"/><circle r="1" class="o"/></g><text class="S" x="921.7" y="1232.5">BJ</text></g>
<g id="n1253"><g transform="translate(850 1253.2) scale(8.3)"><circle r="1" class="b i"/><circle r="1" class="o"/></g><text class="S" x="842.7" y="1265.8">I</text></g>
<g id="n1266"><g transform="translate(893.5 1265.8) scale(8.3)"><circle r="1" class="b i"/><circle r="1" class="o"/></g><text class="S" x="885" y="1280.2">I</text></g>
<g id="n1277"><g transform="translate(938 1276.6) scale(6.3)"><circle r="1" class="b i"/><circle r="1" class="o"/></g><text class="S" x="931" y="1288.5">I</text></g>
<g id="n1316"><g transform="translate(893.5 1316.3) scale(8.3)"><circle r="1" class="b i"/><circle r="1" class="o"/></g><text class="S" x="885" y="1330.2">I</text></g>
<g id="n1306"><g transform="translate(938 1305.5) scale(6.3)"><circle r="1" class="b i"/><circle r="1" class="o"/></g><text class="S" x="931" y="1316.8">I</text></g>
<g id="n1369"><g transform="translate(850 1368.6) scale(8.3)"><circle r="1" class="b ij"/><circle class="s i" r=".5" pathLength="100" stroke-dasharray="25 75" stroke-dashoffset="-75"/><circle r="1" class="o"/></g><text class="S" x="859" y="1364.2">I</text><text class="S" x="838.7" y="1385.8">IJ</text></g>
<g id="n1352"><g transform="translate(893.5 1352.4) scale(8.3)"><circle r="1" class="b ij"/><circle class="s i" r=".5" pathLength="100" stroke-dasharray="25 75" stroke-dashoffset="-75"/><circle r="1" class="o"/></g><text class="S" x="902.7" y="1350.8">I</text><text class="S" x="881" y="1369.2">IJ</text></g>
<g id="n1363"><g transform="translate(938 1363.2) scale(6.3)"><circle r="1" class="b i"/><circle r="1" class="o"/></g><text class="S" x="931" y="1375.2">I</text></g>

<g id="nD"><g transform="translate(763.3 1435.4) scale(16.7)"><circle r="1" class="b p"/><circle class="s n" r=".5" pathLength="100" stroke-dasharray="27 73" stroke-dashoffset="-48"/><circle class="s d" r=".5" pathLength="100" stroke-dasharray="18 82" stroke-dashoffset="-75"/><circle class="s g" r=".5" pathLength="100" stroke-dasharray="7 93" stroke-dashoffset="-93"/><circle r="1" class="o"/></g><text class="big" x="699" y="1432.5">D</text><text class="M" x="739" y="1425">CD</text><text class="M" x="773" y="1421">D</text><text class="M" x="782.7" y="1435.3">DE</text><text class="M" x="742.7" y="1463.7">CDE</text></g>
<g id="n1406"><g transform="translate(937 1406.5) scale(6.3)"><circle r="1" class="b n"/><circle class="s d" r=".5" pathLength="100" stroke-dasharray="50 50" stroke-dashoffset="-50"/><circle r="1" class="o"/></g><text class="S" x="928.3" y="1398.5">D</text><text class="S" x="922.7" y="1420.8">CD</text></g>
<g id="n1464"><g transform="translate(849.3 1464.2) scale(16.7)"><circle r="1" class="b d"/><circle class="s p" r=".5" pathLength="100" stroke-dasharray="37 63" stroke-dashoffset="-34"/><circle class="s g" r=".5" pathLength="100" stroke-dasharray="14.5 85.5" stroke-dashoffset="-71"/><circle class="s n" r=".5" pathLength="100" stroke-dasharray="14.5 85.5" stroke-dashoffset="-85.5"/><circle r="1" class="o"/></g><text class="N" x="848.3" y="1448.7">DE</text><text class="N" x="820" y="1460.3">CD</text><text class="N" x="866" y="1460.3">CD</text><text class="N" x="814" y="1478.7">CDE</text><text class="N" x="857.7" y="1488.7">D</text></g>
<g id="n1439"><g transform="translate(893 1439) scale(7)"><circle r="1" class="b p"/><circle class="s g" r=".5" pathLength="100" stroke-dasharray="13 87" stroke-dashoffset="-75"/><circle class="s d" r=".5" pathLength="100" stroke-dasharray="12 88" stroke-dashoffset="-88"/><circle r="1" class="o"/></g><text class="S" x="901" y="1429.2">DE</text><text class="S" x="881.7" y="1433.7">CD</text><text class="S" x="903.3" y="1440.3">D</text></g>
<g id="n1450"><g transform="translate(936 1449.8) scale(6.3)"><circle r="1" class="b p"/><circle class="s n" r=".5" pathLength="100" stroke-dasharray="25 75" stroke-dashoffset="0"/><circle class="s d" r=".5" pathLength="100" stroke-dasharray="20 80" stroke-dashoffset="-40"/><circle class="s g" r=".5" pathLength="100" stroke-dasharray="20 80" stroke-dashoffset="-80"/><circle r="1" class="o"/></g><text class="S" x="926.7" y="1440.3">CDE</text><text class="S" x="945" y="1452">DE</text><text class="S" x="921.7" y="1457.7">D</text><text class="S" x="936.7" y="1466">CD</text></g>
<g id="n1489"><g transform="translate(893 1489.5) scale(7)"><circle r="1" class="b d"/><circle class="s g" r=".5" pathLength="100" stroke-dasharray="25 75" stroke-dashoffset="-75"/><circle r="1" class="o"/></g><text class="S" x="900" y="1489.3">DE</text><text class="S" x="884" y="1503.7">D</text></g>
<g id="n1479"><g transform="translate(936 1478.6) scale(6.3)"><circle r="1" class="b g"/><circle r="1" class="o"/></g><text class="S" x="921.7" y="1496">DE</text></g>

<g id="nA"><g transform="translate(677 1602.7) scale(16.7)"><circle r="1" class="b n"/><circle class="s p" r=".5" pathLength="100" stroke-dasharray="38 62" stroke-dashoffset="-50"/><circle r="1" class="o"/></g><text class="big" x="616" y="1591.7">A</text><text class="M" x="652.3" y="1583.7">CDE</text><text class="M" x="698.3" y="1598.3">CD</text><text class="M" x="646.7" y="1625">DG</text></g>
<g id="iA"><rect class="bx" x="610" y="1634.3" width="56.7" height="53.4"/><g transform="translate(637 1661) scale(16.8)"><circle r="1" class="b p"/><circle class="s n" r=".5" pathLength="100" stroke-dasharray="50 50" stroke-dashoffset="-50"/><circle r="1" class="o"/></g><text class="N" x="614.3" y="1647">CD</text><text class="N" x="652.3" y="1651.7">DG</text><text class="N" x="634" y="1686">CDE</text></g>
<g id="n1533"><g transform="translate(893 1532.8) scale(7)"><circle r="1" class="b n"/><circle class="s d" r=".5" pathLength="100" stroke-dasharray="35 65" stroke-dashoffset="-50"/><circle class="s t" r=".5" pathLength="100" stroke-dasharray="15 85" stroke-dashoffset="-85"/><circle r="1" class="o"/></g><text class="S" x="881.7" y="1531">D</text><text class="S" x="901.7" y="1534.3">C</text><text class="S" x="878.3" y="1548.7">CD</text></g>
<g id="n1522"><g transform="translate(936 1522) scale(6.3)"><circle r="1" class="b n"/><circle class="s d" r=".5" pathLength="100" stroke-dasharray="35 65" stroke-dashoffset="-50"/><circle class="s t" r=".5" pathLength="100" stroke-dasharray="15 85" stroke-dashoffset="-85"/><circle r="1" class="o"/></g><text class="S" x="926.7" y="1516">D</text><text class="S" x="943.3" y="1522">C</text><text class="S" x="922.7" y="1537">CD</text></g>
<g id="n1673"><g transform="translate(721.5 1672.6) scale(15.7)"><circle r="1" class="b n"/><circle class="s p" r=".5" pathLength="100" stroke-dasharray="25 75" stroke-dashoffset="-72"/><circle r="1" class="o"/></g><text class="N" x="729" y="1658.3">CDE</text><text class="N" x="701.7" y="1695">DG</text></g>
<g id="n1650"><g transform="translate(764.3 1650) scale(16.2)"><circle r="1" class="b n"/><circle r="1" class="o"/></g><text class="N" x="748.3" y="1672.7">DG</text></g>
<g id="n1627"><g transform="translate(807.7 1626.6) scale(16.7)"><circle r="1" class="b n"/><circle r="1" class="o"/></g><text class="N" x="792.3" y="1649.3">DG</text></g>
<g id="n1601"><g transform="translate(851 1601.3) scale(15.8)"><circle r="1" class="b d"/><circle r="1" class="o"/></g><text class="N" x="835.7" y="1620.3">D</text></g>
<g id="n1580"><g transform="translate(894.5 1579.7) scale(7)"><circle r="1" class="b d"/><circle r="1" class="o"/></g><text class="S" x="885" y="1593.7">D</text></g>
<g id="n1565"><g transform="translate(938 1565.2) scale(6.3)"><circle r="1" class="b d"/><circle r="1" class="o"/></g><text class="S" x="926.7" y="1577.7">D</text></g>
<g id="n1594"><g transform="translate(938 1594.1) scale(6.3)"><circle r="1" class="b g"/><circle r="1" class="o"/></g><text class="S" x="917.7" y="1603.7">DE</text></g>
<g id="n1623"><g transform="translate(938 1623) scale(6.3)"><circle r="1" class="b d"/><circle class="s g" r=".5" pathLength="100" stroke-dasharray="50 50" stroke-dashoffset="-50"/><circle r="1" class="o"/></g><text class="S" x="921" y="1615">DE</text><text class="S" x="928.3" y="1635.3">D</text></g>
<g id="n1652"><g transform="translate(938 1651.8) scale(6.3)"><circle r="1" class="b n"/><circle r="1" class="o"/></g><text class="S" x="921" y="1664.3">DG</text></g>
<g id="n1695"><g transform="translate(938 1695.1) scale(6.3)"><circle r="1" class="b p"/><circle class="s n" r=".5" pathLength="100" stroke-dasharray="30 70" stroke-dashoffset="-70"/><circle r="1" class="o"/></g><text class="S" x="946.7" y="1697">CD</text><text class="S" x="922.7" y="1708">CDE</text></g>

<g class="tip">
<g id="tip0"><circle class="dot e" cx="980" cy="14" r="2.3"/><text x="983" y="17.8">(E) <tspan class="it">Keenocardium buellowi</tspan> NMNS 2242</text></g>
<g id="tip1"><circle class="dot n" cx="980" cy="28.4" r="2.3"/><text x="983" y="32.2">(K) <tspan class="it">Keenocardium blandum</tspan> BV26 (UBC6)</text></g>
<g id="tip2"><circle class="dot w" cx="980" cy="42.9" r="2.3"/><text x="983" y="46.7">(EFK) <tspan class="it">Serripes laperousii</tspan> CASIZ 168221</text></g>
<g id="tip3"><circle class="dot fi" cx="980" cy="57.3" r="2.3"/><text x="983" y="61.1">(EFIK) <tspan class="it">Ciliatocardium ciliatum</tspan> FMNH 326761</text></g>
<g id="tip4"><circle class="dot fi" cx="980" cy="71.7" r="2.3"/><text x="983" y="75.5">(EFIK) <tspan class="it">Serripes groenlandicus</tspan> FMNH 326762</text></g>
<g id="tip5"><circle class="dot ek" cx="980" cy="86.2" r="2.3"/><text x="983" y="90">(EK) <tspan class="it">Clinocardium nuttallii</tspan> BV27 (UBC7)</text></g>
<g id="tip6"><circle class="dot n" cx="980" cy="100.6" r="2.3"/><text x="983" y="104.4">(CD) <tspan class="it">Fulvia lineonotata</tspan> UF 305206</text></g>
<g id="tip7"><circle class="dot d" cx="980" cy="115" r="2.3"/><text x="983" y="118.8">(D) <tspan class="it">Laevicardium lobulatum</tspan> IM 200730151</text></g>
<g id="tip8"><circle class="dot j" cx="980" cy="129.4" r="2.3"/><text x="983" y="133.2">(J) <tspan class="it">Bucardium ringens</tspan> RMNH.MOL.119662</text></g>
<g id="tip9"><circle class="dot j" cx="980" cy="143.9" r="2.3"/><text x="983" y="147.7">(J) <tspan class="it">Cardium maxicostatum</tspan> RMNH.MOL.119660</text></g>
<g id="tip10"><circle class="dot j" cx="980" cy="158.3" r="2.3"/><text x="983" y="162.1">(J) <tspan class="it">Cardium costatum</tspan> RMNH.MOL.119661</text></g>
<g id="tip11"><circle class="dot ij" cx="980" cy="172.7" r="2.3"/><text x="983" y="176.5">(IJ) <tspan class="it">Cardium indicum</tspan> RMNH.MOL.119659</text></g>
<g id="tip12"><circle class="dot j" cx="980" cy="187.2" r="2.3"/><text x="983" y="191">(J) <tspan class="it">Europicardium caparti</tspan> RMNH.MOL.13182</text></g>
<g id="tip13"><circle class="dot g" cx="980" cy="201.6" r="2.3"/><text x="983" y="205.4">(DE) <tspan class="it">Fulvia hungerfordi</tspan> IM 200730237</text></g>
<g id="tip14"><circle class="dot g" cx="980" cy="216" r="2.3"/><text x="983" y="219.8">(DE) <tspan class="it">Fulvia hungerfordi</tspan> IM 200730142</text></g>
<g id="tip15"><circle class="dot g" cx="980" cy="230.5" r="2.3"/><text x="983" y="234.3">(DE) <tspan class="it">Fulvia hungerfordi</tspan> FMNH 328593</text></g>
<g id="tip16"><circle class="dot n" cx="980" cy="244.9" r="2.3"/><text x="983" y="248.7">(CD) <tspan class="it">Fulvia dulcis</tspan> IM 200730192</text></g>
<g id="tip17"><circle class="dot n" cx="980" cy="259.3" r="2.3"/><text x="983" y="263.1">(CD) <tspan class="it">Fulvia colorata</tspan> IM 20099791</text></g>
<g id="tip18"><circle class="dot p" cx="980" cy="273.7" r="2.3"/><text x="983" y="277.5">(CDE) <tspan class="it">Fulvia fragiformis</tspan> IM 200730159</text></g>
<g id="tip19"><circle class="dot n" cx="980" cy="288.2" r="2.3"/><text x="983" y="292">(CD) <tspan class="it">Fulvia nienkeae</tspan> IM 200743103</text></g>
<g id="tip20"><circle class="dot p" cx="980" cy="302.6" r="2.3"/><text x="983" y="306.4">(CDE) <tspan class="it">Fulvia australis</tspan> UF 286335</text></g>
<g id="tip21"><circle class="dot p" cx="980" cy="317" r="2.3"/><text x="983" y="320.8">(CDE) <tspan class="it">Fulvia australis</tspan> IM 200730235</text></g>
<g id="tip22"><circle class="dot n" cx="980" cy="331.5" r="2.3"/><text x="983" y="335.3">(CD) <tspan class="it">Fulvia aperta</tspan> IM 200730141</text></g>
<g id="tip23"><circle class="dot d" cx="980" cy="345.9" r="2.3"/><text x="983" y="349.7">(D) <tspan class="it">Fulvia aperta</tspan> RMNH.MOL.41468</text></g>
<g id="tip24"><circle class="dot d" cx="980" cy="360.3" r="2.3"/><text x="983" y="364.1">(D) <tspan class="it">Fulvia boholensis</tspan> UF 304156</text></g>
<g id="tip25"><circle class="dot p" cx="980" cy="374.8" r="2.3"/><text x="983" y="378.6">(CDE) <tspan class="it">Fulvia undatopica</tspan> FMNH 328591</text></g>
<g id="tip26"><circle class="dot e" cx="980" cy="389.2" r="2.3"/><text x="983" y="393">(E) <tspan class="it">Fulvia mutica</tspan> FMNH 328595</text></g>
<g id="tip27"><circle class="dot n" cx="980" cy="403.6" r="2.3"/><text x="983" y="407.4">(CD) <tspan class="it">Acrosterigma simplex</tspan> UF 425951</text></g>
<g id="tip28"><circle class="dot d" cx="980" cy="418" r="2.3"/><text x="983" y="421.8">(D) <tspan class="it">Acrosterigma punctolineatum</tspan> IM 200730197</text></g>
<g id="tip29"><circle class="dot d" cx="980" cy="432.5" r="2.3"/><text x="983" y="436.3">(D) <tspan class="it">Acrosterigma transcendens</tspan> IM 20099805</text></g>
<g id="tip30"><circle class="dot n" cx="980" cy="446.9" r="2.3"/><text x="983" y="450.7">(CD) <tspan class="it">Laevicardium attenuatum</tspan> IM 20099777</text></g>
<g id="tip31"><circle class="dot p" cx="980" cy="461.3" r="2.3"/><text x="983" y="465.1">(CDE) <tspan class="it">Laevicardium biradiatum</tspan> UF 304138</text></g>
<g id="tip32"><circle class="dot d" cx="980" cy="475.8" r="2.3"/><text x="983" y="479.6">(D) <tspan class="it">Vasticardium elongatum enode</tspan> IM 200730157</text></g>
<g id="tip33"><circle class="dot d" cx="980" cy="490.2" r="2.3"/><text x="983" y="494">(D) <tspan class="it">Vasticardium flavum</tspan> UF 323694</text></g>
<g id="tip34"><circle class="dot n" cx="980" cy="504.6" r="2.3"/><text x="983" y="508.4">(CD) <tspan class="it">Vasticardium angulatum</tspan> IM 20099835</text></g>
<g id="tip35"><circle class="dot t" cx="980" cy="519.1" r="2.3"/><text x="983" y="522.9">(C) <tspan class="it">Vasticardium assimile lacunosum</tspan> UF 292823</text></g>
<g id="tip36"><circle class="dot d" cx="980" cy="533.5" r="2.3"/><text x="983" y="537.3">(D) <tspan class="it">Vasticardium vertebratum</tspan> NTM 43909</text></g>
<g id="tip37"><circle class="dot n" cx="980" cy="547.9" r="2.3"/><text x="983" y="551.7">(CD) <tspan class="it">Vasticardium pectiniforme</tspan> IM 200740245</text></g>
<g id="tip38"><circle class="dot n" cx="980" cy="562.3" r="2.3"/><text x="983" y="566.1">(CD) <tspan class="it">Vasticardium kenyanum</tspan> IM 20099785</text></g>
<g id="tip39"><circle class="dot d" cx="980" cy="576.8" r="2.3"/><text x="983" y="580.6">(D) <tspan class="it">Vasticardium philippinense</tspan> CASIZ 114334</text></g>
<g id="tip40"><circle class="dot t" cx="980" cy="591.2" r="2.3"/><text x="983" y="595">(C) <tspan class="it">Vasticardium insulare</tspan> RMNH.MOL.41367</text></g>
<g id="tip41"><circle class="dot gb" cx="980" cy="605.6" r="2.3"/><text x="983" y="609.4">(G) <tspan class="it">Papyridea spec. aff. crockeri</tspan> UF 371362</text></g>
<g id="tip42"><circle class="dot gb" cx="980" cy="620.1" r="2.3"/><text x="983" y="623.9">(G) <tspan class="it">Mexicardia panamensis</tspan> SBMNH 149262</text></g>
<g id="tip43"><circle class="dot gb" cx="980" cy="634.5" r="2.3"/><text x="983" y="638.3">(G) <tspan class="it">Papyridea aspersa</tspan> UF 371942</text></g>
<g id="tip44"><circle class="dot gb" cx="980" cy="648.9" r="2.3"/><text x="983" y="652.7">(A) <tspan class="it">Papyridea semisulcata</tspan> UF 286647</text></g>
<g id="tip45"><circle class="dot gb" cx="980" cy="663.4" r="2.3"/><text x="983" y="667.2">(A) <tspan class="it">Trachycardium egmontianum</tspan> UF 433840</text></g>
<g id="tip46"><circle class="dot dp" cx="980" cy="677.8" r="2.3"/><text x="983" y="681.6">(GK) <tspan class="it">Phlogocardium belcheri</tspan> UF 391879</text></g>
<g id="tip47"><circle class="dot dp" cx="980" cy="692.2" r="2.3"/><text x="983" y="696">(GK) <tspan class="it">Dallocardia senticosum</tspan> UF 351612</text></g>
<g id="tip48"><circle class="dot gb" cx="980" cy="706.6" r="2.3"/><text x="983" y="710.4">(A) <tspan class="it">Acrosterigma magnum</tspan> FMNH 315294</text></g>
<g id="tip49"><circle class="dot gb" cx="980" cy="721.1" r="2.3"/><text x="983" y="724.9">(A) <tspan class="it">Laevicardium pristis</tspan> JJTP 2139</text></g>
<g id="tip50"><circle class="dot gb" cx="980" cy="735.5" r="2.3"/><text x="983" y="739.3">(G) <tspan class="it">Laevicardium elenense</tspan> UF 371589</text></g>
<g id="tip51"><circle class="dot g" cx="980" cy="749.9" r="2.3"/><text x="983" y="753.7">(AJ) <tspan class="it">Laevicardium pictum</tspan> UF 286690</text></g>
<g id="tip52"><circle class="dot gb" cx="980" cy="764.4" r="2.3"/><text x="983" y="768.2">(A) <tspan class="it">Laevicardium serratum</tspan> UF 348860</text></g>
<g id="tip53"><circle class="dot dp" cx="980" cy="778.8" r="2.3"/><text x="983" y="782.6">(AH) <tspan class="it">Dinocardium robustum</tspan> BV22</text></g>
<g id="tip54"><circle class="dot j" cx="980" cy="793.2" r="2.3"/><text x="983" y="797">(J) <tspan class="it">Laevicardium senegalense</tspan> RMNH.MOL.119658</text></g>
<g id="tip55"><circle class="dot g" cx="980" cy="807.7" r="2.3"/><text x="983" y="811.5">(DE) <tspan class="it">Microfragum festivum</tspan> IM 200730232</text></g>
<g id="tip56"><circle class="dot n" cx="980" cy="822.1" r="2.3"/><text x="983" y="825.9">(CD) <tspan class="it">Ctenocardia robillardi</tspan> IM 200730162</text></g>
<g id="tip57"><circle class="dot d" cx="980" cy="836.5" r="2.3"/><text x="983" y="840.3">(D) <tspan class="it">Microfragum subfestivum</tspan> IM 200732254</text></g>
<g id="tip58"><circle class="dot n" cx="980" cy="850.9" r="2.3"/><text x="983" y="854.7">(CD) <tspan class="it">Ctenocardia fornicata</tspan> IM 20099775</text></g>
<g id="tip59"><circle class="dot d" cx="980" cy="865.4" r="2.3"/><text x="983" y="869.2">(D) <tspan class="it">Ctenocardia gustavi</tspan> UF 351689</text></g>
<g id="tip60"><circle class="dot gb" cx="980" cy="879.8" r="2.3"/><text x="983" y="883.6">(A) <tspan class="it">Americardia media</tspan> UF 380487</text></g>
<g id="tip61"><circle class="dot gb" cx="980" cy="894.2" r="2.3"/><text x="983" y="898">(G) <tspan class="it">Trigoniocardia granifera</tspan> UF 359687</text></g>
<g id="tip62"><circle class="dot gb" cx="980" cy="908.7" r="2.3"/><text x="983" y="912.5">(G) <tspan class="it">Apiocardia obovalis</tspan> NHMUK 20080641</text></g>
<g id="tip63"><circle class="dot gb" cx="980" cy="923.1" r="2.3"/><text x="983" y="926.9">(G) <tspan class="it">Americardia biangulatum UF 351609</tspan></text></g>
<g id="tip64"><circle class="dot n" cx="980" cy="937.5" r="2.3"/><text x="983" y="941.3">(CD) <tspan class="it">Microfragum erugatum</tspan> UF 299293</text></g>
<g id="tip65"><circle class="dot n" cx="980" cy="952" r="2.3"/><text x="983" y="955.8">(CD) <tspan class="it">Fragum sueziense</tspan> UF 299280</text></g>
<g id="tip66"><circle class="dot d" cx="980" cy="966.4" r="2.3"/><text x="983" y="970.2">(D) <tspan class="it">Fragum aff mundum</tspan> UF 374156</text></g>
<g id="tip67"><circle class="dot d" cx="980" cy="980.8" r="2.3"/><text x="983" y="984.6">(D) <tspan class="it">Fragum carinatum</tspan> UF 351691</text></g>
<g id="tip68"><circle class="dot n" cx="980" cy="995.2" r="2.3"/><text x="983" y="999">(CD) <tspan class="it">Fragum sp.</tspan> IM 200730190</text></g>
<g id="tip69"><circle class="dot n" cx="980" cy="1009.7" r="2.3"/><text x="983" y="1013.5">(CD) <tspan class="it">Corculum cardissa</tspan> JJTP3978</text></g>
<g id="tip70"><circle class="dot d" cx="980" cy="1024.1" r="2.3"/><text x="983" y="1027.9">(D) <tspan class="it">Lunulicardia hemicardium</tspan> UF 299269</text></g>
<g id="tip71"><circle class="dot p" cx="980" cy="1038.5" r="2.3"/><text x="983" y="1042.3">(CDE) <tspan class="it">Lunulicardia retusa</tspan> NHMUK 20060464</text></g>
<g id="tip72"><circle class="dot n" cx="980" cy="1053" r="2.3"/><text x="983" y="1056.8">(CD) <tspan class="it">Fragum mundum</tspan> UF 374155</text></g>
<g id="tip73"><circle class="dot n" cx="980" cy="1067.4" r="2.3"/><text x="983" y="1071.2">(CD) <tspan class="it">Fragum whitleyi</tspan> IM 200730199</text></g>
<g id="tip74"><circle class="dot n" cx="980" cy="1081.8" r="2.3"/><text x="983" y="1085.6">(CD) <tspan class="it">Fragum fragum</tspan> IM 200730139</text></g>
<g id="tip75"><circle class="dot p" cx="980" cy="1096.3" r="2.3"/><text x="983" y="1100.1">(CDE) <tspan class="it">Fragum unedo</tspan> UF 299291</text></g>
<g id="tip76"><circle class="dot n" cx="980" cy="1110.7" r="2.3"/><text x="983" y="1114.5">(CD) <tspan class="it">Fragum whitleyi</tspan> UF 299448</text></g>
<g id="tip77"><circle class="dot n" cx="980" cy="1125.1" r="2.3"/><text x="983" y="1128.9">(CD) <tspan class="it">Fragum whitleyi</tspan> UF 296894</text></g>
<g id="tip78"><circle class="dot w" cx="980" cy="1139.5" r="2.3"/><text x="983" y="1143.3">(CDI) <tspan class="it">Afrocardium richardi</tspan> IM 200730236</text></g>
<g id="tip79"><circle class="dot p" cx="980" cy="1154" r="2.3"/><text x="983" y="1157.8">(CDE) <tspan class="it">Afrocardium exochum</tspan> IM 20099780</text></g>
<g id="tip80"><circle class="dot p" cx="980" cy="1168.4" r="2.3"/><text x="983" y="1172.2">(CDE) <tspan class="it">Lyrocardium lyratum</tspan> IM 200730001</text></g>
<g id="tip81"><circle class="dot d" cx="980" cy="1182.8" r="2.3"/><text x="983" y="1186.6">(D) <tspan class="it">Lyrocardium aurantiacum</tspan> UF 298808</text></g>
<g id="tip82"><circle class="dot n" cx="980" cy="1197.3" r="2.3"/><text x="983" y="1201.1">(CD) <tspan class="it">Freneixicardia victor</tspan> IM 20099774</text></g>
<g id="tip83"><circle class="dot p" cx="980" cy="1211.7" r="2.3"/><text x="983" y="1215.5">(B) <tspan class="it">Papillicardium turtoni</tspan> NMSA W2602</text></g>
<g id="tip84"><circle class="dot ij" cx="980" cy="1226.1" r="2.3"/><text x="983" y="1229.9">(IJ) <tspan class="it">Papillicardium papillosum</tspan> UF 374115</text></g>
<g id="tip85"><circle class="dot i" cx="980" cy="1240.6" r="2.3"/><text x="983" y="1244.4">(I) <tspan class="it">Acanthocardia paucicostata</tspan> JJTP 1396</text></g>
<g id="tip86"><circle class="dot i" cx="980" cy="1255" r="2.3"/><text x="983" y="1258.8">(I) <tspan class="it">Acanthocardia echinata</tspan> NHMUK 20070236</text></g>
<g id="tip87"><circle class="dot i" cx="980" cy="1269.4" r="2.3"/><text x="983" y="1273.2">(I) <tspan class="it">Acanthocardia aculeata</tspan> JJTP 1825</text></g>
<g id="tip88"><circle class="dot i" cx="980" cy="1283.8" r="2.3"/><text x="983" y="1287.6">(I) <tspan class="it">Acanthocardia tuberculata</tspan> JJTP 1827</text></g>
<g id="tip89"><circle class="dot i" cx="980" cy="1298.3" r="2.3"/><text x="983" y="1302.1">(I) <tspan class="it">Cerastoderma edule</tspan> 01 COMPOSITE</text></g>
<g id="tip90"><circle class="dot i" cx="980" cy="1312.7" r="2.3"/><text x="983" y="1316.5">(I) <tspan class="it">Cerastoderma glaucum</tspan> FMNH 318977</text></g>
<g id="tip91"><circle class="dot i" cx="980" cy="1327.1" r="2.3"/><text x="983" y="1330.9">(I) <tspan class="it">Monodacna colorata</tspan> FMNH 312499</text></g>
<g id="tip92"><circle class="dot i" cx="980" cy="1341.6" r="2.3"/><text x="983" y="1345.4">(I) <tspan class="it">Parvicardium vroomi</tspan> UF 374116</text></g>
<g id="tip93"><circle class="dot i" cx="980" cy="1356" r="2.3"/><text x="983" y="1359.8">(I) <tspan class="it">Parvicardium scriptum</tspan> UF 374117A</text></g>
<g id="tip94"><circle class="dot ij" cx="980" cy="1370.4" r="2.3"/><text x="983" y="1374.2">(IJ) <tspan class="it">Parvicardium minimum</tspan> UMMZ 265486</text></g>
<g id="tip95"><circle class="dot ij" cx="980" cy="1384.9" r="2.3"/><text x="983" y="1388.7">(I) <tspan class="it">Parvicardium exiguum</tspan> UF 374117B</text></g>
<g id="tip96"><circle class="dot n" cx="980" cy="1399.3" r="2.3"/><text x="983" y="1403.1">(CD) <tspan class="it">Hippopus hippopus</tspan> F122973</text></g>
<g id="tip97"><circle class="dot d" cx="980" cy="1413.7" r="2.3"/><text x="983" y="1417.5">(D) <tspan class="it">Hippopus porcellanus</tspan> AF122974</text></g>
<g id="tip98"><circle class="dot p" cx="980" cy="1428.1" r="2.3"/><text x="983" y="1431.9">(CDE) <tspan class="it">Tridacna maxima</tspan> NDH01</text></g>
<g id="tip99"><circle class="dot p" cx="980" cy="1442.6" r="2.3"/><text x="983" y="1446.4">(CDE) <tspan class="it">Tridacna squamosa</tspan> AF122978</text></g>
<g id="tip100"><circle class="dot n" cx="980" cy="1457" r="2.3"/><text x="983" y="1460.8">(CD) <tspan class="it">Tridacna crocea</tspan> NDH02</text></g>
<g id="tip101"><circle class="dot g" cx="980" cy="1471.4" r="2.3"/><text x="983" y="1475.2">(DE) <tspan class="it">Tridacna derasa</tspan> RMNH.MOL.40948</text></g>
<g id="tip102"><circle class="dot d" cx="980" cy="1485.9" r="2.3"/><text x="983" y="1489.7">(D) <tspan class="it">Tridacna gigas</tspan> AF122975</text></g>
<g id="tip103"><circle class="dot d" cx="980" cy="1500.3" r="2.3"/><text x="983" y="1504.1">(D) <tspan class="it">Tridacna mbalavuana</tspan> AF122977</text></g>
<g id="tip104"><circle class="dot n" cx="980" cy="1514.7" r="2.3"/><text x="983" y="1518.5">(CD) <tspan class="it">Frigidocardium helios</tspan> IM 200730161</text></g>
<g id="tip105"><circle class="dot n" cx="980" cy="1529.2" r="2.3"/><text x="983" y="1533">(CD) <tspan class="it">Frigidocardium torresi</tspan> IM 200730234</text></g>
<g id="tip106"><circle class="dot n" cx="980" cy="1543.6" r="2.3"/><text x="983" y="1547.4">(CD) <tspan class="it">Frigidocardium kiranum</tspan> UF 294008</text></g>
<g id="tip107"><circle class="dot d" cx="980" cy="1558" r="2.3"/><text x="983" y="1561.8">(D) <tspan class="it">Microcardium tenuilamellosum</tspan> IM 200730196</text></g>
<g id="tip108"><circle class="dot d" cx="980" cy="1572.4" r="2.3"/><text x="983" y="1576.2">(D) <tspan class="it">Microcardium velatum</tspan> IM 200732278</text></g>
<g id="tip109"><circle class="dot g" cx="980" cy="1586.9" r="2.3"/><text x="983" y="1590.7">(DE) <tspan class="it">Trifaricardium nomurai</tspan> IM 200732271</text></g>
<g id="tip110"><circle class="dot d" cx="980" cy="1601.3" r="2.3"/><text x="983" y="1605.1">(D) <tspan class="it">Microcardium aequiliratum</tspan> IM 200732265</text></g>
<g id="tip111"><circle class="dot d" cx="980" cy="1615.7" r="2.3"/><text x="983" y="1619.5">(D) <tspan class="it">Microcardium trapezoidale</tspan> IM 20099767</text></g>
<g id="tip112"><circle class="dot g" cx="980" cy="1630.2" r="2.3"/><text x="983" y="1634">(DE) <tspan class="it">Microcardium sakuraii</tspan> IM 200732260</text></g>
<g id="tip113"><circle class="dot gb" cx="980" cy="1644.6" r="2.3"/><text x="983" y="1648.4">(G) <tspan class="it">Microcardium pazianum</tspan> UF 351595</text></g>
<g id="tip114"><circle class="dot d" cx="980" cy="1659" r="2.3"/><text x="983" y="1662.8">(D) <tspan class="it">Microcardium n. sp.</tspan> IM 200732269</text></g>
<g id="tip115"><circle class="dot gb" cx="980" cy="1673.5" r="2.3"/><text x="983" y="1677.3">(G) <tspan class="it">Lophocardium cumingii</tspan> NHMUK 20080645</text></g>
<g id="tip116"><circle class="dot t" cx="980" cy="1687.9" r="2.3"/><text x="983" y="1691.7">(C) <tspan class="it">Frigidocardium centumliratum</tspan> IM 20099803</text></g>
<g id="tip117"><circle class="dot g" cx="980" cy="1702.3" r="2.3"/><text x="983" y="1706.1">(DE) <tspan class="it">Frigidocardium eos</tspan> FMNH 328589</text></g>
</g>
</svg>
